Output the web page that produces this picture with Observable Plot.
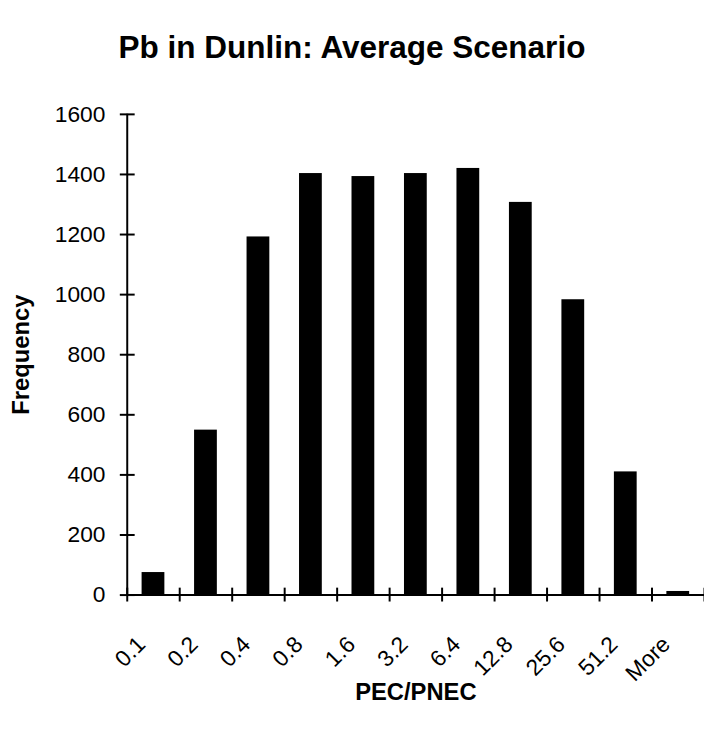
<!DOCTYPE html>
<html>
<head>
<meta charset="utf-8">
<script src="https://cdn.jsdelivr.net/npm/d3@7"></script>
<script src="https://cdn.jsdelivr.net/npm/@observablehq/plot@0.6"></script>
<style>
  html, body { margin: 0; padding: 0; background: #fff; overflow: hidden; width: 704px; height: 729px; position: relative; }
  #title { position: absolute; left: 0; top: 0; width: 704px; height: 94px; font-family: Arial, "Liberation Sans", sans-serif; font-weight: bold; font-size: 31.5px; line-height: 94px; text-align: center; color: #000; white-space: nowrap; z-index: 2; }
  #chart { position: absolute; left: 0; top: 0; }
  #chart svg { display: block; }
  #chart g[aria-label="x-axis label"] text, #chart g[aria-label="y-axis label"] text { font-weight: bold; font-size: 24px; }
  #chart g[aria-label="x-axis tick label"] text, #chart g[aria-label="y-axis tick label"] text { font-size: 23px; }
</style>
</head>
<body>
<div id="chart"></div>
<div id="title">Pb in Dunlin: Average Scenario</div>
<script>
const categories = ["0.1", "0.2", "0.4", "0.8", "1.6", "3.2", "6.4", "12.8", "25.6", "51.2", "More"];
const frequency = [75, 549, 1192, 1403, 1393, 1403, 1420, 1307, 983, 410, 12];
const yTicks = [0, 200, 400, 600, 800, 1000, 1200, 1400, 1600];

const bins = categories.map((label, i) => ({bin: i, next: i + 1, label, value: frequency[i]}));
const edges = d3.range(categories.length + 1);
const centers = categories.map((_, i) => i + 0.5);

const chart = Plot.plot({
  width: 711,
  height: 729,
  marginTop: 115,
  marginBottom: 128.5,
  marginLeft: 128,
  marginRight: 0,
  style: {fontFamily: 'Arial, "Liberation Sans", sans-serif', fontSize: "23px", color: "#000", background: "#fff"},
  x: {domain: [0, categories.length], axis: null},
  y: {domain: [0, 1600], axis: null},
  marks: [
    Plot.rectY(bins, {x1: "bin", x2: "next", y: "value", insetLeft: 15, insetRight: 15, fill: "#000"}),
    Plot.ruleY([0], {x1: 0, x2: categories.length, stroke: "#000", strokeWidth: 2}),
    Plot.ruleX([0], {y1: 0, y2: 1600, stroke: "#000", strokeWidth: 2}),
    Plot.axisX(edges, {tickSize: 14, dy: -7, strokeWidth: 2, tickFormat: () => "", label: null}),
    Plot.axisX(centers, {tickSize: 0, tickPadding: 46, dx: -12, tickRotate: -45, fontSize: 23,
      tickFormat: (d) => categories[Math.round(d - 0.5)],
      label: "PEC/PNEC", labelArrow: "none", labelAnchor: "center", labelOffset: 106}),
    Plot.axisY(yTicks, {tickSize: 15, dx: 8, strokeWidth: 2, tickFormat: () => "", label: null}),
    Plot.axisY(yTicks, {tickSize: 0, tickPadding: 22, fontSize: 23, tickFormat: (d) => String(d),
      label: "Frequency", labelArrow: "none", labelAnchor: "center", labelOffset: 116})
  ]
});
document.getElementById("chart").appendChild(chart);
</script>
</body>
</html>
